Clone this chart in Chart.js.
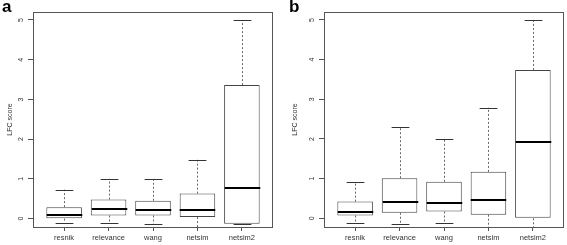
<!DOCTYPE html>
<html>
<head>
<meta charset="utf-8">
<script src="https://cdn.jsdelivr.net/npm/chart.js@4.4.1/dist/chart.umd.min.js"></script>
<style>
  body { margin: 0; background: #fff; }
  #wrap { position: relative; width: 567px; height: 245px; }
  canvas { position: absolute; top: 0; }
  #chartA { left: 0; }
  #chartB { left: 283px; }
  .panel { position: absolute; top: -3px; font: bold 17px "Liberation Sans", Arial, sans-serif; color: #000; }
</style>
</head>
<body>
<div id="wrap">
  <canvas id="chartA" width="283" height="245"></canvas>
  <canvas id="chartB" width="284" height="245"></canvas>
  <div class="panel" style="left:2px">a</div>
  <div class="panel" style="left:289px">b</div>
</div>
<script>
const categories = ['resnik', 'relevance', 'wang', 'netsim', 'netsim2'];
const yTicks = [0, 1, 2, 3, 4, 5];

// panel a
const aLower  = [-0.10, -0.10, -0.13, -0.21, -0.13];
const aQ1     = [0.00, 0.08, 0.08, 0.04, -0.13];
const aMedian = [0.10, 0.24, 0.22, 0.21, 0.76];
const aQ3     = [0.29, 0.48, 0.45, 0.63, 3.36];
const aUpper  = [0.73, 1.00, 1.00, 1.48, 5.00];

// panel b
const bLower  = [-0.11, -0.15, -0.13, -0.22, -0.22];
const bQ1     = [0.07, 0.14, 0.17, 0.09, 0.00];
const bMedian = [0.17, 0.42, 0.39, 0.46, 1.93];
const bQ3     = [0.42, 1.01, 0.92, 1.17, 3.74];
const bUpper  = [0.92, 2.31, 2.01, 2.79, 5.00];

const fontFam = '"Liberation Sans", Arial, sans-serif';
const lineCol = '#444';

// whiskers, caps, medians and the frame, drawn through the chart scales
const boxPlugin = {
  id: 'boxExtras',
  afterDatasetsDraw(chart) {
    const { ctx, chartArea, scales: { x, y } } = chart;
    const ds = chart.data.datasets[0];
    const meta = chart.getDatasetMeta(0);
    ctx.save();
    ctx.beginPath();
    ctx.rect(chartArea.left, chartArea.top, chartArea.right - chartArea.left, chartArea.bottom - chartArea.top);
    ctx.clip();
    categories.forEach((c, i) => {
      const cx = Math.round(x.getPixelForValue(i + 1)) + 0.5;
      const half = meta.data[i].width / 2;
      const yLo = y.getPixelForValue(ds.lower[i]);
      const yQ1 = y.getPixelForValue(ds.q1[i]);
      const yQ3 = y.getPixelForValue(ds.q3[i]);
      const yHi = y.getPixelForValue(ds.upper[i]);
      const yMed = y.getPixelForValue(ds.median[i]);
      // dashed whiskers
      ctx.strokeStyle = '#666';
      ctx.lineWidth = 1;
      ctx.setLineDash([2, 2]);
      ctx.beginPath();
      ctx.moveTo(cx, yQ3); ctx.lineTo(cx, yHi);
      ctx.moveTo(cx, yQ1); ctx.lineTo(cx, yLo);
      ctx.stroke();
      // caps
      ctx.setLineDash([]);
      ctx.strokeStyle = '#333';
      ctx.beginPath();
      ctx.moveTo(cx - half / 2, Math.round(yHi) + 0.5); ctx.lineTo(cx + half / 2, Math.round(yHi) + 0.5);
      ctx.moveTo(cx - half / 2, Math.round(yLo) + 0.5); ctx.lineTo(cx + half / 2, Math.round(yLo) + 0.5);
      ctx.stroke();
      // median
      ctx.strokeStyle = '#000';
      ctx.lineWidth = 2;
      ctx.beginPath();
      ctx.moveTo(cx - half, Math.round(yMed)); ctx.lineTo(cx + half, Math.round(yMed));
      ctx.stroke();
    });
    ctx.restore();
    // frame
    ctx.save();
    ctx.strokeStyle = '#555';
    ctx.lineWidth = 1;
    ctx.strokeRect(chartArea.left + 0.5, chartArea.top + 0.5,
      chartArea.right - chartArea.left - 1, chartArea.bottom - chartArea.top);
    ctx.restore();
  }
};

function makeChart(id, lower, q1, median, q3, upper, yMin, axisW, rightPad, titlePad) {
  const ctx = document.getElementById(id).getContext('2d');
  return new Chart(ctx, {
    type: 'bar',
    data: {
      datasets: [{
        data: categories.map((c, i) => ({ x: i + 1, y: [q1[i], q3[i]] })),
        lower: lower, q1: q1, median: median, q3: q3, upper: upper,
        backgroundColor: '#fff',
        borderColor: lineCol,
        borderWidth: 1,
        borderSkipped: false,
        categoryPercentage: 1,
        barPercentage: 0.8
      }]
    },
    options: {
      responsive: false,
      animation: false,
      layout: { padding: { top: 12, right: rightPad, left: 0, bottom: 0 } },
      plugins: { legend: { display: false }, tooltip: { enabled: false } },
      scales: {
        x: {
          type: 'linear',
          offset: false,
          min: 0.3,
          max: 5.7,
          afterBuildTicks: s => { s.ticks = categories.map((c, i) => ({ value: i + 1 })); },
          afterFit: s => { s.height = 18; },
          grid: { display: true, offset: false, drawOnChartArea: false, drawTicks: true, tickLength: 4, color: '#555' },
          border: { display: false },
          ticks: {
            callback: v => categories[v - 1],
            autoSkip: false,
            maxRotation: 0,
            padding: 2,
            color: '#333',
            font: { family: fontFam, size: 7.5 }
          }
        },
        y: {
          min: yMin,
          max: 5.2,
          afterBuildTicks: s => { s.ticks = yTicks.map(v => ({ value: v })); },
          afterFit: s => { s.width = axisW; },
          grid: { display: true, drawOnChartArea: false, drawTicks: true, tickLength: 5, color: '#555' },
          border: { display: false },
          title: {
            display: true,
            text: 'LFC score',
            color: '#333',
            font: { family: fontFam, size: 7 },
            padding: { top: titlePad, bottom: 0 }
          },
          ticks: {
            minRotation: 90,
            maxRotation: 90,
            crossAlign: 'center',
            padding: 5,
            color: '#333',
            font: { family: fontFam, size: 7 }
          }
        }
      }
    },
    plugins: [boxPlugin]
  });
}

makeChart('chartA', aLower, aQ1, aMedian, aQ3, aUpper, -0.21, 33, 10, 6);
makeChart('chartB', bLower, bQ1, bMedian, bQ3, bUpper, -0.22, 41, 3, 8);
</script>
</body>
</html>
